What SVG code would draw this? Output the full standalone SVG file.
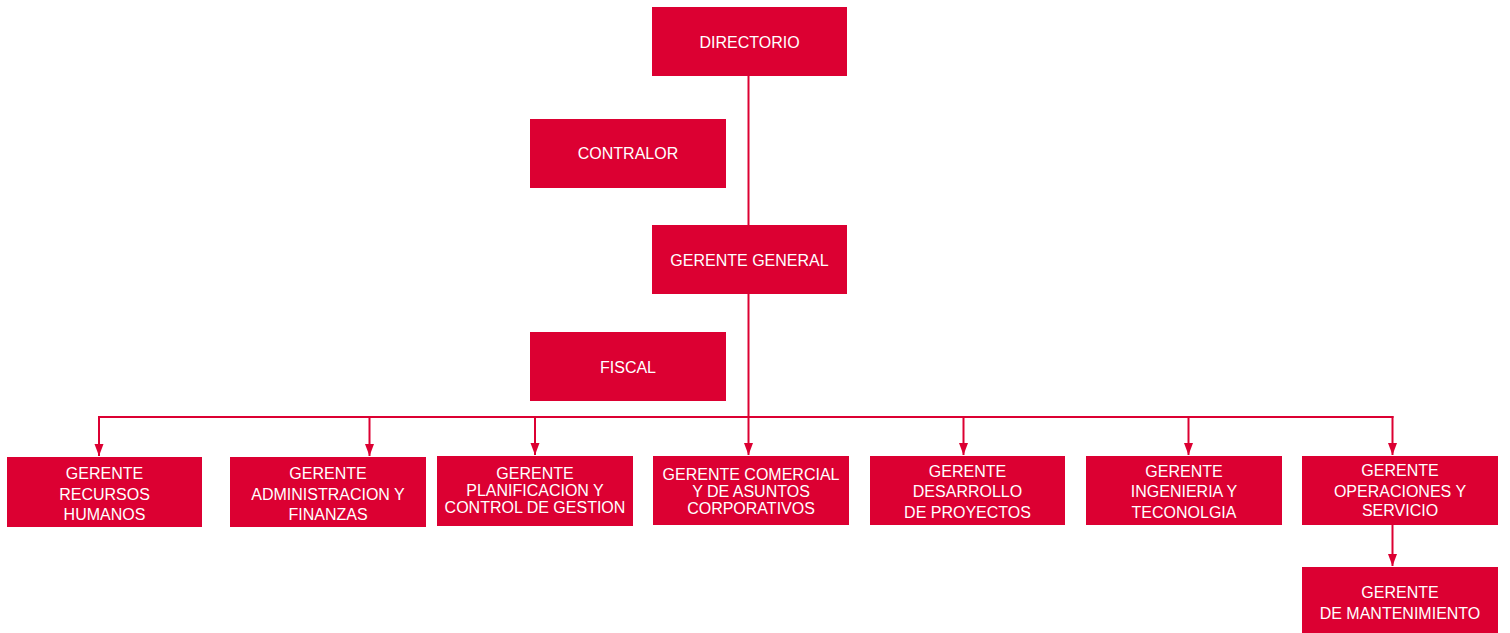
<svg xmlns="http://www.w3.org/2000/svg" width="1510" height="633" viewBox="0 0 1510 633">
<defs>
<style>
.box{fill:#DC0032;}
.lbl{font-family:"Liberation Sans",Arial,sans-serif;font-size:16px;fill:#ffffff;text-anchor:middle;}
.con{stroke:#DC0032;stroke-width:2;fill:none;}
</style>
<marker id="arr" markerUnits="userSpaceOnUse" markerWidth="12" markerHeight="10" refX="12" refY="5" orient="auto">
<path d="M0,0.5 L12,5 L0,9.5 z" fill="#DC0032"/>
</marker>
</defs>
<rect width="1510" height="633" fill="#ffffff"/>
<g id="connectors">
<line class="con" x1="748.5" y1="76" x2="748.5" y2="225"/>
<line class="con" x1="748.5" y1="294" x2="748.5" y2="455" marker-end="url(#arr)"/>
<line class="con" x1="98" y1="417" x2="1393.5" y2="417"/>
<line class="con" x1="99" y1="416" x2="99" y2="456" marker-end="url(#arr)"/>
<line class="con" x1="369.5" y1="416" x2="369.5" y2="456" marker-end="url(#arr)"/>
<line class="con" x1="535" y1="416" x2="535" y2="455" marker-end="url(#arr)"/>
<line class="con" x1="963.5" y1="416" x2="963.5" y2="455" marker-end="url(#arr)"/>
<line class="con" x1="1188.5" y1="416" x2="1188.5" y2="455" marker-end="url(#arr)"/>
<line class="con" x1="1392.5" y1="416" x2="1392.5" y2="455" marker-end="url(#arr)"/>
<line class="con" x1="1392.5" y1="525" x2="1392.5" y2="566" marker-end="url(#arr)"/>
</g>
<g id="directorio">
<rect class="box" x="652" y="7" width="195" height="69"/>
<text class="lbl" x="749.5" y="47.5">DIRECTORIO</text>
</g>
<g id="contralor">
<rect class="box" x="530" y="119" width="196" height="69"/>
<text class="lbl" x="628" y="159">CONTRALOR</text>
</g>
<g id="gerente-general">
<rect class="box" x="652" y="225" width="195" height="69"/>
<text class="lbl" x="749.5" y="265.5">GERENTE GENERAL</text>
</g>
<g id="fiscal">
<rect class="box" x="530" y="332" width="196" height="69"/>
<text class="lbl" x="628" y="372.5">FISCAL</text>
</g>
<g id="rrhh">
<rect class="box" x="7" y="457" width="195" height="70"/>
<text class="lbl" x="104.5" y="479">GERENTE</text>
<text class="lbl" x="104.5" y="499.5">RECURSOS</text>
<text class="lbl" x="104.5" y="520">HUMANOS</text>
</g>
<g id="adm-finanzas">
<rect class="box" x="230" y="457" width="196" height="70"/>
<text class="lbl" x="328" y="479">GERENTE</text>
<text class="lbl" x="328" y="499.5">ADMINISTRACION Y</text>
<text class="lbl" x="328" y="520">FINANZAS</text>
</g>
<g id="planificacion">
<rect class="box" x="437" y="456" width="196" height="70"/>
<text class="lbl" x="535" y="478.5">GERENTE</text>
<text class="lbl" x="535" y="495.5">PLANIFICACION Y</text>
<text class="lbl" x="535" y="512.5">CONTROL DE GESTION</text>
</g>
<g id="comercial">
<rect class="box" x="653" y="456" width="196" height="69"/>
<text class="lbl" x="751" y="479.5">GERENTE COMERCIAL</text>
<text class="lbl" x="751" y="497">Y DE ASUNTOS</text>
<text class="lbl" x="751" y="514">CORPORATIVOS</text>
</g>
<g id="desarrollo">
<rect class="box" x="870" y="456" width="195" height="69"/>
<text class="lbl" x="967.5" y="477">GERENTE</text>
<text class="lbl" x="967.5" y="497">DESARROLLO</text>
<text class="lbl" x="967.5" y="517.5">DE PROYECTOS</text>
</g>
<g id="ingenieria">
<rect class="box" x="1086" y="456" width="196" height="69"/>
<text class="lbl" x="1184" y="477">GERENTE</text>
<text class="lbl" x="1184" y="497">INGENIERIA Y</text>
<text class="lbl" x="1184" y="517.5">TECONOLGIA</text>
</g>
<g id="operaciones">
<rect class="box" x="1302" y="456" width="196" height="69"/>
<text class="lbl" x="1400" y="476">GERENTE</text>
<text class="lbl" x="1400" y="496.5">OPERACIONES Y</text>
<text class="lbl" x="1400" y="516">SERVICIO</text>
</g>
<g id="mantenimiento">
<rect class="box" x="1302" y="567" width="196" height="66"/>
<text class="lbl" x="1400" y="598">GERENTE</text>
<text class="lbl" x="1400" y="618.5">DE MANTENIMIENTO</text>
</g>
</svg>
